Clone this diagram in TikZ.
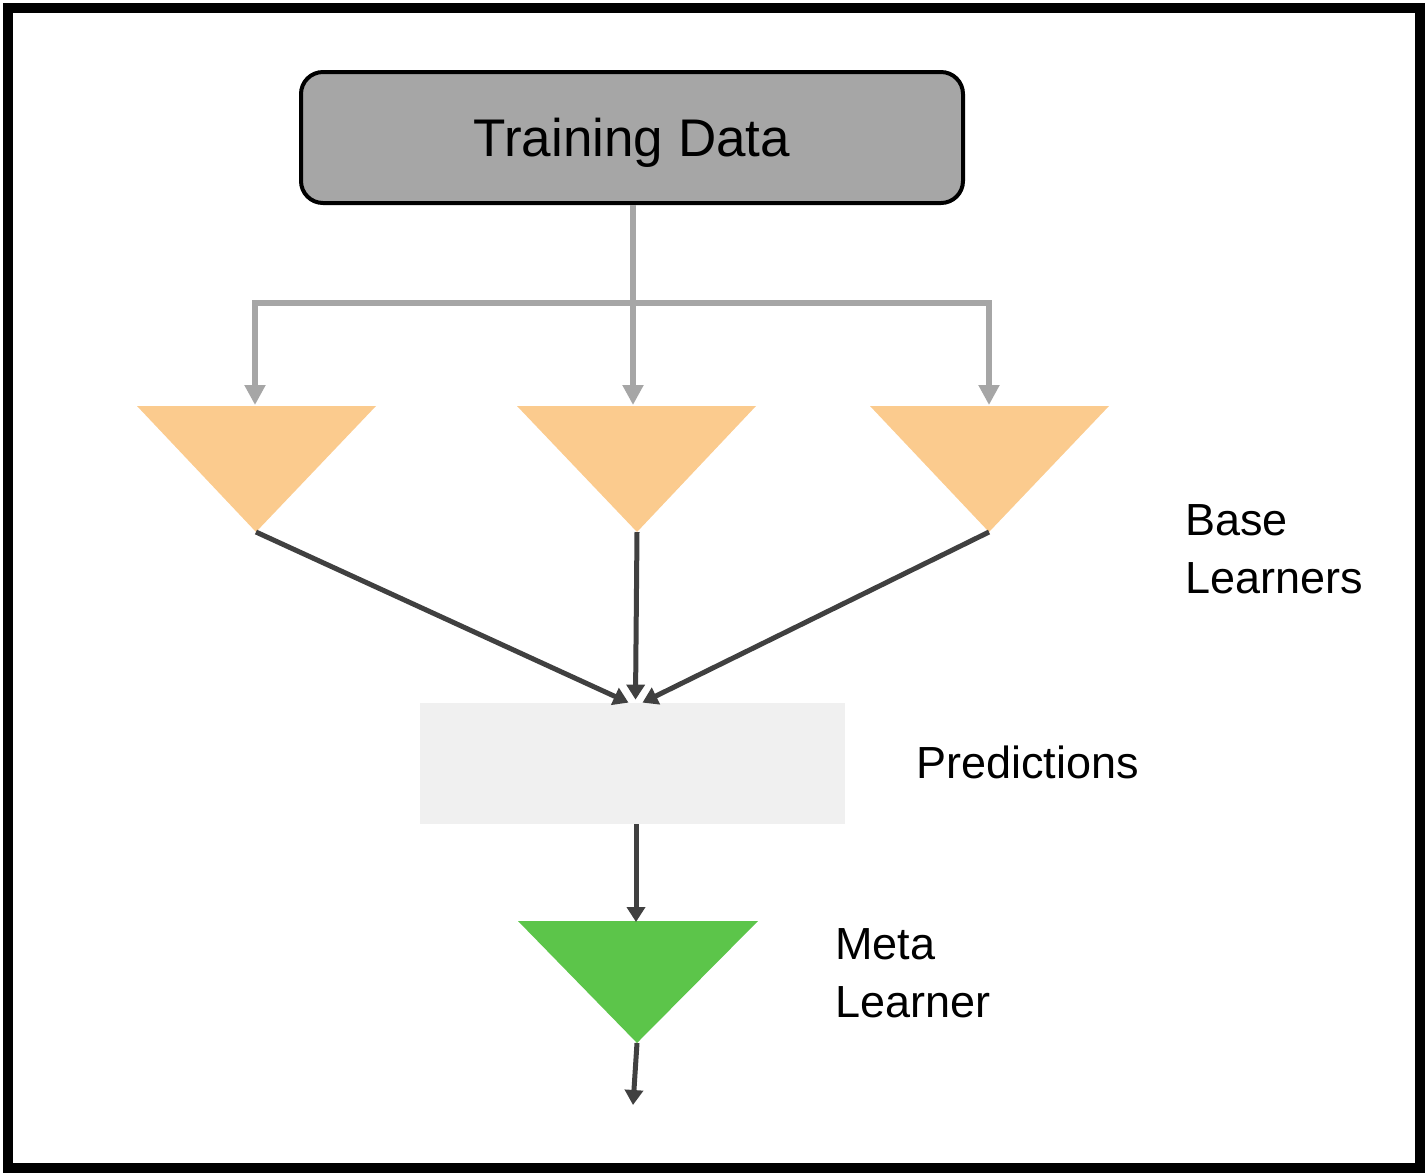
\documentclass[tikz,border=0pt]{standalone}
\usepackage{fontspec}
\setmainfont{Liberation Sans}
\usepackage{xcolor}
\usetikzlibrary{arrows.meta,positioning,calc}

\definecolor{boxgray}{HTML}{A6A6A6}
\definecolor{lightgray}{HTML}{F0F0F0}
\definecolor{linegray}{HTML}{A6A6A6}
\definecolor{darkline}{HTML}{404040}
\definecolor{baseorange}{HTML}{FBCB8E}
\definecolor{metagreen}{HTML}{5CC54A}

\begin{document}
\begin{tikzpicture}[x=0.5pt, y=-0.5pt,
    databox/.style={rectangle, draw, line width=2pt, rounded corners=11pt, fill=boxgray,
                    minimum width=331pt, minimum height=65.5pt, inner sep=0pt,
                    font=\fontsize{26.5}{32}\selectfont},
    predbox/.style={rectangle, fill=lightgray, minimum width=212.5pt, minimum height=60.5pt, inner sep=0pt},
    garr/.style={draw=linegray, line width=3pt, -{Triangle[length=10pt,width=10pt]}, color=linegray},
    darr/.style={draw=darkline, line width=2.5pt, -{Triangle[length=7.5pt,width=9pt]}, color=darkline},
    lbl/.style={align=left, inner sep=0pt, font=\fontsize{22.5}{29}\selectfont},
  ]

  \useasboundingbox (0,0) rectangle (1425,1175);

  % Frame
  \draw[line width=5pt] (8,7.5) rectangle (1420,1168);

  % Training data
  \node[databox] (td) at (632,137.5) {\raisebox{-2.5pt}[\height][\depth]{Training Data}};

  % Base learners
  \fill[baseorange] (137,406) -- (376,406) -- (256,532) -- cycle;
  \fill[baseorange] (517,406) -- (756,406) -- (637,532) -- cycle;
  \fill[baseorange] (870,406) -- (1109,406) -- (989,532) -- cycle;
  \coordinate (b1top) at (255,405);
  \coordinate (b2top) at (633,405);
  \coordinate (b3top) at (989,405);
  \coordinate (b1tip) at (256,532);
  \coordinate (b2tip) at (637,532);
  \coordinate (b3tip) at (989,532);
  \coordinate (split) at (633,303);

  % Predictions
  \node[predbox] (pred) at (632.5,763.5) {};

  % Meta learner
  \fill[metagreen] (518,921) -- (758,921) -- (637,1043) -- cycle;
  \coordinate (mtop) at (636,922);
  \coordinate (mtip) at (637,1043);
  \coordinate (out) at (633,1105);

  % Connectors
  \draw[garr] (td.south -| split) -- (b2top);
  \draw[garr] (split) -| (b1top);
  \draw[garr] (split) -| (b3top);
  \draw[darr] (b1tip) -- ($(pred.north)+(-4,0)$);
  \draw[darr] (b2tip) -- ($(pred.north)+(3,-3)$);
  \draw[darr] (b3tip) -- ($(pred.north)+(10,0)$);
  \draw[darr] (pred.south -| mtop) -- (mtop);
  \draw[darr] (mtip) -- (out);

  % Labels
  \node[lbl, anchor=west] (bl) at (1185,549) {Base\\Learners};
  \node[lbl, anchor=west] (pl) at (916,762) {Predictions};
  \node[lbl, anchor=west] (ml) at (835,973) {Meta\\Learner};

\end{tikzpicture}
\end{document}
